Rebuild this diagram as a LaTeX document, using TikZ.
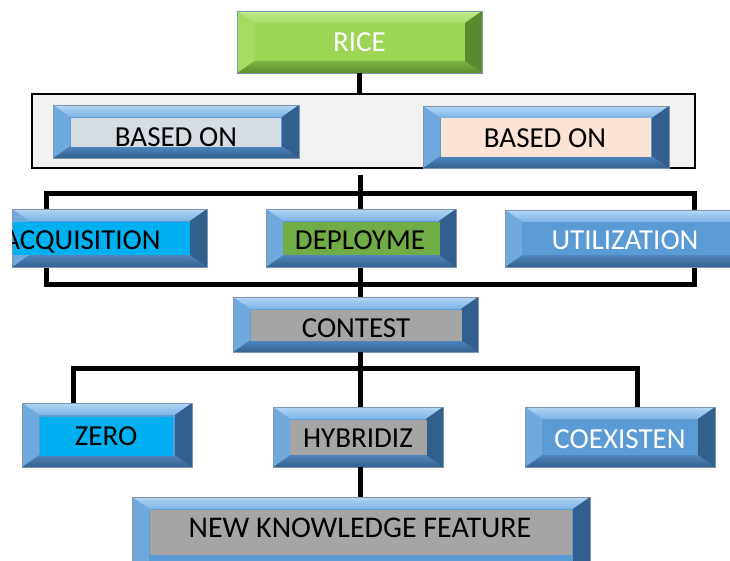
\documentclass[tikz,border=0pt]{standalone}
\usepackage{fontspec}
\setmainfont{Carlito}
\usetikzlibrary{fit,calc}
\definecolor{blface}{HTML}{5B9BD5}
\definecolor{bltopA}{HTML}{B3D6F4}
\definecolor{bltopB}{HTML}{7DB3E6}
\definecolor{blleft}{HTML}{6FA9DD}
\definecolor{blbotA}{HTML}{4F86BE}
\definecolor{blbotB}{HTML}{34618E}
\definecolor{blright}{HTML}{32608E}
\definecolor{bledge}{HTML}{7F96AE}
\definecolor{grface}{HTML}{9DD656}
\definecolor{grtopA}{HTML}{C2EA8C}
\definecolor{grtopB}{HTML}{A8DC68}
\definecolor{grleft}{HTML}{A6DA63}
\definecolor{grbotA}{HTML}{80B245}
\definecolor{grbotB}{HTML}{5E8C30}
\definecolor{grright}{HTML}{5C8A2E}
\definecolor{frameg}{HTML}{F2F2F2}
\definecolor{slate}{HTML}{D6DCE4}
\definecolor{peach}{HTML}{FBE4D5}
\definecolor{cyanb}{HTML}{00B0F0}
\definecolor{leaf}{HTML}{70AD47}
\definecolor{greyb}{HTML}{A5A5A5}
\tikzset{
  x=1pt, y=-1pt,
  conn/.style={line width=5pt, black, line join=miter},
  lbl/.style={font=\fontsize{29}{30}\selectfont, inner sep=0pt, anchor=base},
  face/.style={inner sep=0pt, draw=none},
}
% #1 name, #2 x1, #3 y1, #4 x2, #5 y2, #6 scheme (bl or gr)
\newcommand\bevbox[6]{%
  \coordinate (#1-nw) at (#2,#3);
  \coordinate (#1-se) at (#4,#5);
  \fill[#6face] (#2,#3) rectangle (#4,#5);
  \shade[top color=#6topA, bottom color=#6topB] (#2,#3) -- (#4,#3) -- (#4-17,#3+12) -- (#2+17,#3+12) -- cycle;
  \shade[top color=#6botA, bottom color=#6botB] (#2,#5) -- (#4,#5) -- (#4-17,#5-12) -- (#2+17,#5-12) -- cycle;
  \fill[#6left] (#2,#3) -- (#2+17,#3+12) -- (#2+17,#5-12) -- (#2,#5) -- cycle;
  \fill[#6right] (#4,#3) -- (#4-17,#3+12) -- (#4-17,#5-12) -- (#4,#5) -- cycle;
  \node[inner sep=0pt, draw=bledge, line width=0.6pt, fit=(#1-nw)(#1-se)] (#1) {};
}
% inner coloured face: #1 name, #2 x1, #3 y1, #4 x2, #5 y2, #6 colour
\newcommand\innerface[6]{%
  \coordinate (#1-inw) at (#2,#3);
  \coordinate (#1-ise) at (#4,#5);
  \node[face, fill=#6, fit=(#1-inw)(#1-ise)] (#1-in) {};
}
\begin{document}
\begin{tikzpicture}
\useasboundingbox (0,0) rectangle (730,561);
\begin{scope}
\clip (0,0) rectangle (730,561);

% outer frame
\coordinate (fr-nw) at (32,94);
\coordinate (fr-se) at (695,168);
\node[inner sep=0pt, fill=frameg, draw=black, line width=1.5pt, fit=(fr-nw)(fr-se)] (frame) {};

% bracket and trunk lines
\coordinate (gap) at (360,175);
\coordinate (br-tl) at (46,194);
\coordinate (br-br) at (694,284);
\draw[conn] (br-tl) rectangle (br-br);

% boxes
\bevbox{rice}{237}{11}{482}{73}{gr}
\node[lbl, text=white] (rice-t) at (359.5,51.5) {RICE};

\bevbox{bl}{53}{105}{299}{158}{bl}
\innerface{bl}{71}{118}{281}{147}{slate}
\node[lbl] (bl-t) at (176,147) {BASED ON};

\bevbox{br}{423}{106}{669}{168}{bl}
\innerface{br}{441}{118}{651}{157}{peach}
\node[lbl] (br-t) at (545,148) {BASED ON};

\draw[conn] (rice.south) -- (rice.south |- frame.north);

\bevbox{contest}{233}{297}{478}{352}{bl}
\draw[conn] (gap) -- (gap |- contest.north);

\bevbox{acq}{12}{209}{207}{267}{bl}
\innerface{acq}{13}{222}{190}{255}{cyanb}
\begin{scope}
\clip (acq-nw) rectangle (acq-se);
\node[lbl] (acq-t) at (82,250) {ACQUISITION};
\end{scope}

\bevbox{dep}{266}{209}{456}{267}{bl}
\innerface{dep}{283}{222}{440}{255}{leaf}
\node[lbl] (dep-t) at (360,250) {DEPLOYME};

\bevbox{util}{505}{210}{750}{267}{bl}
\fill[blface] (522,222) rectangle (735,255);
\node[lbl, text=white] (util-t) at (625,250) {UTILIZATION};

\innerface{contest}{251}{310}{462}{341}{greyb}
\node[lbl] (contest-t) at (356,337) {CONTEST};

% lower tree
\coordinate (jl) at (73,368);
\coordinate (jr) at (637,368);
\draw[conn] (gap |- contest.south) -- (gap |- jl);

\bevbox{zero}{22}{403}{192}{467}{bl}
\innerface{zero}{40}{417}{173}{456}{cyanb}
\node[lbl] (zero-t) at (106,445) {ZERO};

\bevbox{hyb}{273}{407}{443}{467}{bl}
\innerface{hyb}{290}{420}{427}{455}{greyb}
\node[lbl] (hyb-t) at (358,447) {HYBRIDIZ};

\bevbox{coex}{525}{407}{715}{467}{bl}
\node[lbl, text=white] (coex-t) at (620,448) {COEXISTEN};

\draw[conn] (zero.north -| jl) -- (jl) -- (jr) -- (jr |- coex.north);
\draw[conn] (gap |- jl) -- (gap |- hyb.north);

\bevbox{nkf}{132}{497}{590}{580}{bl}
\innerface{nkf}{150}{510}{572}{555}{greyb}
\node[lbl, font=\fontsize{30}{31}\selectfont] (nkf-t) at (360,537) {NEW KNOWLEDGE FEATURE};
\draw[conn] (gap |- hyb.south) -- (gap |- nkf.north);
\end{scope}
\end{tikzpicture}
\end{document}
